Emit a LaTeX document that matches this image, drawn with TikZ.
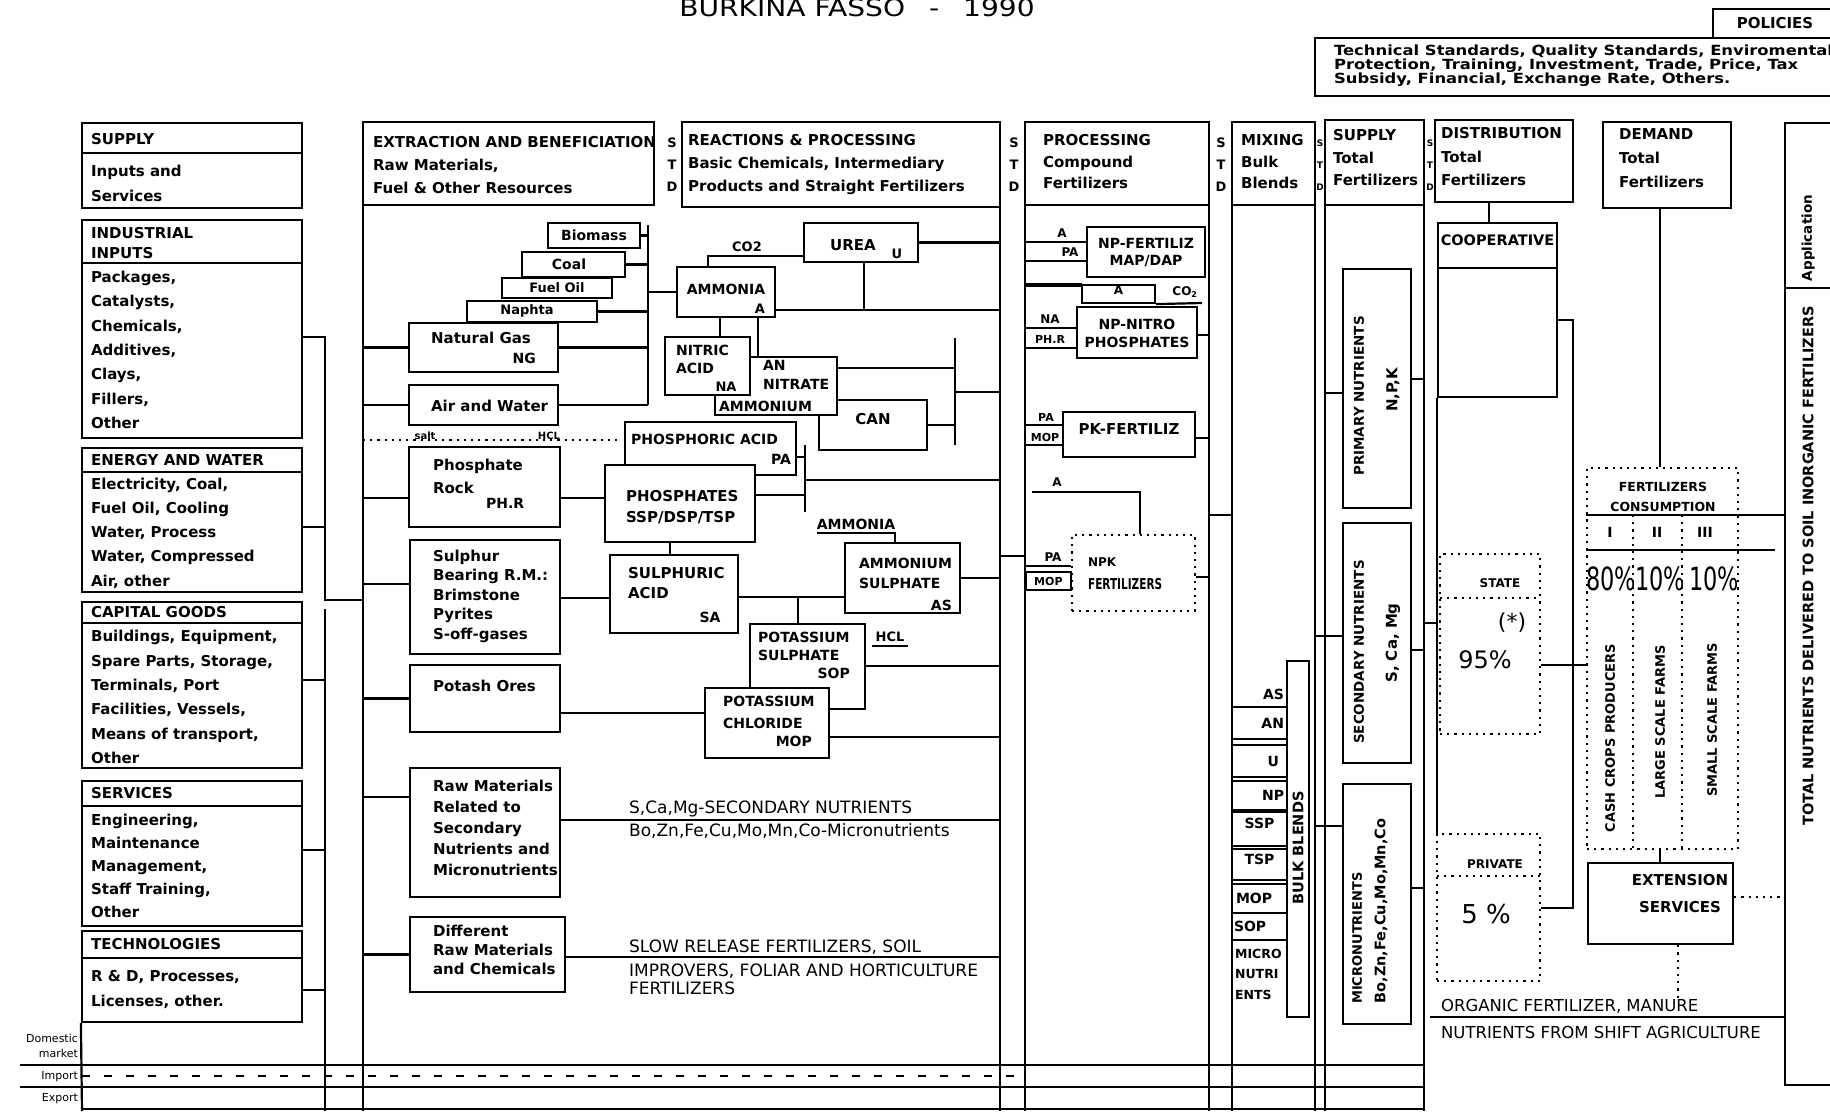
\documentclass[tikz,border=0pt]{standalone}
\usepackage{fontspec}
\setmainfont{DejaVu Sans}
\newfontfamily\widefont{DejaVu Sans}[FakeStretch=1.17]
\newfontfamily\narrowfont{DejaVu Sans}[FakeStretch=0.7]
\usetikzlibrary{fit}

\begin{document}
\begin{tikzpicture}[
    x=1pt, y=-1pt, line width=2.2pt,
    box/.style={draw, fill=white, inner sep=0pt,
                font=\fontsize{14}{18}\selectfont\bfseries},
    dotbox/.style={draw, dash pattern=on 2.2pt off 5pt, inner sep=0pt},
    dotwire/.style={dash pattern=on 2.2pt off 5pt},
    dashwire/.style={dash pattern=on 8pt off 14pt},
    lbl/.style={anchor=west, inner sep=0pt, align=left, font=\fontsize{15}{#1}\selectfont\bfseries},
    lbl/.default=23,
    tag/.style={inner sep=0pt, font=\fontsize{13}{14}\selectfont\bfseries},
    thin/.style={anchor=west, inner sep=0pt, align=left, font=\fontsize{17}{18}\selectfont},
    vlbl/.style={rotate=90, inner sep=0pt, font=\fontsize{#1}{#1}\selectfont\bfseries},
    vlbl/.default=14,
    stdl/.style={inner sep=0pt, align=center, font=\fontsize{13}{22}\selectfont\bfseries}
]
\useasboundingbox (0,0) rectangle (1830,1111);

% Title and policies
\node[inner sep=0pt, font=\widefont\fontsize{24}{24}\selectfont] (title) at (857,8) {BURKINA FASSO\quad-\quad 1990};
\draw (1830,9) -- (1713,9) -- (1713,38);
\node[tag, font=\fontsize{15}{15}\selectfont\bfseries] (policies) at (1775,23) {POLICIES};
\draw (1830,38) -- (1315,38) -- (1315,96) -- (1830,96);
\node[anchor=west, inner sep=0pt, align=left, font=\widefont\fontsize{14}{14}\selectfont\bfseries] (policylist) at (1333,66)
    {Technical Standards, Quality Standards, Enviromental\\Protection, Training, Investment, Trade, Price, Tax\\Subsidy, Financial, Exchange Rate, Others.};

% Supply of inputs and services
\node[box, fit={(82,123) (302,153)}] (suph) {};
\node[box, fit={(82,153) (302,208)}] (supb) {};
\node[lbl] (suplbl) at (90,139) {SUPPLY};
\node[lbl=25] (supitems) at (90,183) {Inputs and\\Services};
\node[box, fit={(82,220) (302,263)}] (indh) {};
\node[box, fit={(82,263) (302,438)}] (indb) {};
\node[lbl=20] (indlbl) at (90,243) {INDUSTRIAL\\INPUTS};
\node[lbl=24.3] (inditems) at (90,350) {Packages,\\Catalysts,\\Chemicals,\\Additives,\\Clays,\\Fillers,\\Other};
\node[box, fit={(82,448) (302,472)}] (enh) {};
\node[box, fit={(82,472) (302,592)}] (enb) {};
\node[lbl] (enlbl) at (90,460) {ENERGY AND WATER};
\node[lbl=24.3] (enitems) at (90,533) {Electricity, Coal,\\Fuel Oil, Cooling\\Water, Process\\Water, Compressed\\Air, other};
\node[box, fit={(82,602) (302,623)}] (caph) {};
\node[box, fit={(82,623) (302,768)}] (capb) {};
\node[lbl] (caplbl) at (90,612) {CAPITAL GOODS};
\node[lbl=24.4] (capitems) at (90,697) {Buildings, Equipment,\\Spare Parts, Storage,\\Terminals, Port\\Facilities, Vessels,\\Means of transport,\\Other};
\node[box, fit={(82,781) (302,806)}] (serh) {};
\node[box, fit={(82,806) (302,926)}] (serb) {};
\node[lbl] (serlbl) at (90,793) {SERVICES};
\node[lbl=23] (seritems) at (90,866) {Engineering,\\Maintenance\\Management,\\Staff Training,\\Other};
\node[box, fit={(82,931) (302,958)}] (tech) {};
\node[box, fit={(82,958) (302,1022)}] (tecb) {};
\node[lbl] (teclbl) at (90,944) {TECHNOLOGIES};
\node[lbl=25] (tecitems) at (90,989) {R \& D, Processes,\\Licenses, other.};

\coordinate (ibus) at (325,337);
\draw (indb.east |- ibus) -- (ibus) -- (325,600) -- (363,600);
\draw (enb.east |- 0,527) -- (325,527);
\draw (325,609) -- (325,1111);
\draw (capb.east |- 0,680) -- (325,680);
\draw (serb.east |- 0,850) -- (325,850);
\draw (tecb.east |- 0,990) -- (325,990);

% Market rows
\node[anchor=east, inner sep=0pt, align=right, font=\fontsize{11}{15}\selectfont] (domestic) at (79,1046) {Domestic\\market};
\node[anchor=east, inner sep=0pt, font=\fontsize{11}{11}\selectfont] (import) at (79,1077) {Import};
\node[anchor=east, inner sep=0pt, font=\fontsize{11}{11}\selectfont] (export) at (79,1099) {Export};
\draw (tecb.south west) -- (82,1111);
\draw (20,1065) -- (1424,1065);
\draw (20,1087) -- (1424,1087);
\draw (82,1109) -- (1424,1109);

% Extraction and beneficiation
\node[box, fit={(363,122) (654,205)}] (exth) {};
\node[lbl] (extlbl) at (372,165) {EXTRACTION AND BENEFICIATION\\Raw Materials,\\Fuel \& Other Resources};
\node[stdl] (std1) at (672,165) {S\\T\\D};
\coordinate (xl) at (363,205);
\draw (xl) -- (363,1111);

\node[box, fit={(548,223) (640,248)}] (bio) {};
\node[tag, font=\fontsize{14}{14}\selectfont\bfseries] (biolbl) at (bio.center) {Biomass};
\node[box, fit={(522,252) (625,277)}] (coal) {};
\node[tag, font=\fontsize{14}{14}\selectfont\bfseries] (coallbl) at (569,264) {Coal};
\node[box, fit={(502,278) (612,298)}] (oil) {};
\node[tag, font=\fontsize{13}{13}\selectfont\bfseries] (oillbl) at (557,288) {Fuel Oil};
\node[box, fit={(467,301) (597,322)}] (nap) {};
\node[tag, font=\fontsize{13}{13}\selectfont\bfseries] (naplbl) at (527,311) {Naphta};
\node[box, fit={(409,323) (558,372)}] (ng) {};
\node[lbl] (nglbl) at (430,338) {Natural Gas};
\node[tag, anchor=east, font=\fontsize{14}{14}\selectfont\bfseries] (ngtag) at (537,358) {NG};
\node[box, fit={(409,385) (558,425)}] (air) {};
\node[lbl] (airlbl) at (430,406) {Air and Water};
\coordinate (fbus) at (648,225);
\draw (fbus) -- (fbus |- air.east);
\foreach \n in {bio,coal,nap,ng,air} \draw (\n.east) -- (\n.east -| fbus);
\foreach \n in {ng,air} \draw (\n.west -| xl) -- (\n.west);

\draw[dotwire] (xl |- 0,440) -- (620,440);
\node[tag, font=\fontsize{10}{10}\selectfont\bfseries] (salt) at (425,436) {salt};
\node[tag, font=\fontsize{10}{10}\selectfont\bfseries] (hclone) at (549,436) {HCL};

\node[box, fit={(409,447) (560,527)}] (phr) {};
\node[lbl] (phrlbl) at (432,476) {Phosphate\\Rock};
\node[tag, anchor=west, font=\fontsize{14}{14}\selectfont\bfseries] (phrtag) at (485,503) {PH.R};
\draw (xl |- 0,498) -- (phr.west |- 0,498);

\node[box, fit={(410,540) (560,654)}] (sul) {};
\node[lbl=19.5] (sullbl) at (432,596) {Sulphur\\Bearing R.M.:\\Brimstone\\Pyrites\\S-off-gases};
\draw (xl |- 0,584) -- (sul.west |- 0,584);

\node[box, fit={(410,665) (560,732)}] (pot) {};
\node[lbl] (potlbl) at (432,686) {Potash Ores};
\draw (xl |- pot.west) -- (pot.west);

\node[box, fit={(410,768) (560,897)}] (raw) {};
\node[lbl=21] (rawlbl) at (432,828) {Raw Materials\\Related to\\Secondary\\Nutrients and\\Micronutrients};
\draw (xl |- 0,797) -- (raw.west |- 0,797);

\node[box, fit={(410,917) (565,992)}] (dif) {};
\node[lbl=19] (diflbl) at (432,950) {Different\\Raw Materials\\and Chemicals};
\draw (xl |- dif.west) -- (dif.west);

% Reactions and processing
\node[box, fit={(682,122) (1000,207)}] (reah) {};
\node[lbl] (realbl) at (687,165) {REACTIONS \& PROCESSING\\Basic Chemicals, Intermediary\\Products and Straight Fertilizers};
\node[stdl] (std2) at (1014,165) {S\\T\\D};
\coordinate (xr) at (1000,207);
\draw (xr) -- (1000,1111);

\node[box, fit={(804,223) (918,262)}] (urea) {};
\node[tag, font=\fontsize{15}{15}\selectfont\bfseries] (urealbl) at (853,245) {UREA};
\node[tag] (ureatag) at (897,254) {U};
\node[box, fit={(677,267) (775,317)}] (amm) {};
\node[tag, font=\fontsize{14}{14}\selectfont\bfseries] (ammlbl) at (726,289) {AMMONIA};
\node[tag] (ammtag) at (760,309) {A};
\draw (amm.north -| 708,0) -- (708,256) -- (urea.west |- 0,256);
\node[tag] (coone) at (747,247) {CO2};
\draw (fbus |- amm.west) -- (amm.west);
\draw (urea.east) -- (urea.east -| xr);
\draw (urea.south -| 864,0) -- (864,310);
\draw (amm.east |- 0,310) -- (xr |- 0,310);

\node[box, fit={(819,400) (927,450)}, font=\fontsize{15}{15}\selectfont\bfseries] (can) {CAN};
\node[box, fit={(715,357) (837,415)}] (an) {};
\node[box, fit={(665,337) (750,395)}] (nit) {};
\node[lbl=18, font=\fontsize{14}{18}\selectfont\bfseries] (nitlbl) at (675,359) {NITRIC\\ACID};
\node[tag] (nittag) at (726,387) {NA};
\node[lbl=19, font=\fontsize{14}{19}\selectfont\bfseries] (anlbl) at (762,375) {AN\\NITRATE};
\node[lbl, font=\fontsize{14}{14}\selectfont\bfseries] (anmlbl) at (718,406) {AMMONIUM};
\draw (amm.south -| 720,0) -- (nit.north -| 720,0);
\draw (amm.south -| 758,0) -- (an.north -| 758,0);
\draw (an.east |- 0,368) -- (955,368);
\draw (955,338) -- (955,445);
\draw (can.east) -- (can.east -| 955,0);
\draw (955,392) -- (xr |- 0,392);

\node[box, fit={(625,422) (796,475)}] (pa) {};
\node[lbl, font=\fontsize{14}{14}\selectfont\bfseries] (palbl) at (630,439) {PHOSPHORIC ACID};
\node[tag, anchor=east, font=\fontsize{14}{14}\selectfont\bfseries] (patag) at (792,459) {PA};
\node[box, fit={(605,465) (755,542)}] (phs) {};
\node[lbl=21] (phslbl) at (625,507) {PHOSPHATES\\SSP/DSP/TSP};
\draw (phr.east |- 0,498) -- (phs.west |- 0,498);
\draw (pa.east |- 0,457) -- (805,457);
\draw (805,445) -- (805,512);
\draw (phs.east |- 0,495) -- (805,495);
\draw (805,480) -- (xr |- 0,480);

\node[box, fit={(610,555) (738,633)}] (sa) {};
\node[lbl=20] (salbl) at (627,583) {SULPHURIC\\ACID};
\node[tag, font=\fontsize{14}{14}\selectfont\bfseries] (satag) at (710,617) {SA};
\draw (phs.south -| 670,0) -- (sa.north -| 670,0);
\draw (sul.east |- 0,598) -- (sa.west |- 0,598);

\node[box, fit={(845,543) (960,613)}] (as) {};
\node[lbl=20, font=\fontsize{14}{20}\selectfont\bfseries] (aslbl) at (858,573) {AMMONIUM\\SULPHATE};
\node[tag, anchor=east, font=\fontsize{14}{14}\selectfont\bfseries] (astag) at (953,605) {AS};
\node[tag, font=\fontsize{14}{14}\selectfont\bfseries] (ammtwo) at (856,524) {AMMONIA};
\draw (817,533) -- (895,533) -- (as.north -| 895,0);
\draw (sa.east |- 0,597) -- (as.west |- 0,597);
\draw (as.east |- 0,578) -- (xr |- 0,578);

\node[box, fit={(750,624) (865,709)}] (sop) {};
\node[lbl=18, font=\fontsize{14}{18}\selectfont\bfseries] (soplbl) at (757,646) {POTASSIUM\\SULPHATE};
\node[tag, anchor=east, font=\fontsize{14}{14}\selectfont\bfseries] (soptag) at (851,673) {SOP};
\draw (798,597) -- (sop.north -| 798,0);
\node[tag] (hcltwo) at (890,637) {HCL};
\draw (872,646) -- (908,646);
\draw (sop.east |- 0,666) -- (xr |- 0,666);

\node[box, fit={(705,688) (829,758)}] (mop) {};
\node[lbl=22, font=\fontsize{14}{22}\selectfont\bfseries] (moplbl) at (722,712) {POTASSIUM\\CHLORIDE};
\node[tag, anchor=east, font=\fontsize{14}{14}\selectfont\bfseries] (moptag) at (813,741) {MOP};
\draw (pot.east |- 0,713) -- (mop.west |- 0,713);
\draw (mop.east |- 0,737) -- (xr |- 0,737);

\draw (raw.east |- 0,820) -- (xr |- 0,820);
\node[thin] (secnut) at (628,809) {S,Ca,Mg-SECONDARY NUTRIENTS};
\node[thin] (micnut) at (628,831) {Bo,Zn,Fe,Cu,Mo,Mn,Co-Micronutrients};
\draw (dif.east |- 0,957) -- (xr |- 0,957);
\node[thin] (slow) at (628,947) {SLOW RELEASE FERTILIZERS, SOIL};
\node[thin] (improv) at (628,979) {IMPROVERS, FOLIAR AND HORTICULTURE\\FERTILIZERS};

% Processing compound fertilizers
\node[box, fit={(1025,122) (1209,205)}] (proh) {};
\node[lbl=21.5] (prolbl) at (1042,162) {PROCESSING\\Compound\\Fertilizers};
\node[stdl] (std3) at (1221,165) {S\\T\\D};
\draw (1025,205) -- (1025,1111);
\draw (1209,205) -- (1209,1111);
\draw (xr |- 0,556) -- (1025,556);

\node[box, fit={(1087,227) (1205,277)}] (npf) {};
\node[inner sep=0pt, align=center, font=\fontsize{14}{17}\selectfont\bfseries] (npflbl) at (1146,253) {NP-FERTILIZ\\MAP/DAP};
\draw (1025,242) -- (npf.west |- 0,242);
\node[tag, font=\fontsize{12}{12}\selectfont\bfseries] (npfa) at (1062,233) {A};
\draw (1025,261) -- (npf.west |- 0,261);
\node[tag, font=\fontsize{12}{12}\selectfont\bfseries] (npfpa) at (1070,252) {PA};

\draw[line width=3.2pt] (1025,285) -- (1082,285);
\node[box, fit={(1082,285) (1155,303)}, font=\fontsize{12}{12}\selectfont\bfseries] (abox) {A};
\draw (abox.south east) -- (1202,303);
\node[tag, font=\fontsize{12}{12}\selectfont\bfseries] (cotwo) at (1185,292) {CO\textsubscript{2}};
\node[box, fit={(1077,307) (1197,358)}] (npn) {};
\node[inner sep=0pt, align=center, font=\fontsize{14}{18}\selectfont\bfseries] (npnlbl) at (1137,333) {NP-NITRO\\PHOSPHATES};
\draw (1025,328) -- (npn.west |- 0,328);
\node[tag, font=\fontsize{12}{12}\selectfont\bfseries] (npnna) at (1050,319) {NA};
\draw (1025,348) -- (npn.west |- 0,348);
\node[tag, font=\fontsize{11}{11}\selectfont\bfseries] (npnphr) at (1050,339) {PH.R};
\draw (npn.east |- 0,335) -- (1209,335);

\node[box, fit={(1063,412) (1195,457)}, font=\fontsize{15}{15}\selectfont\bfseries] (pk) {PK-FERTILIZ};
\draw (1025,425) -- (pk.west |- 0,425);
\node[tag, font=\fontsize{11}{11}\selectfont\bfseries] (pkpa) at (1046,417) {PA};
\draw (1025,445) -- (pk.west |- 0,445);
\node[tag, font=\fontsize{11}{11}\selectfont\bfseries] (pkmop) at (1045,437) {MOP};
\draw (pk.east |- 0,438) -- (1209,438);

\node[dotbox, fit={(1072,535) (1195,611)}] (npk) {};
\node[lbl, font=\fontsize{12}{12}\selectfont\bfseries] (npklbl) at (1087,562) {NPK};
\node[lbl, font=\narrowfont\fontsize{15}{15}\selectfont\bfseries] (npkfert) at (1087,584) {FERTILIZERS};
\draw (1032,492) -- (1140,492) -- (npk.north -| 1140,0);
\node[tag, font=\fontsize{12}{12}\selectfont\bfseries] (npka) at (1057,482) {A};
\draw (1025,566) -- (npk.west |- 0,566);
\node[tag, font=\fontsize{12}{12}\selectfont\bfseries] (npkpa) at (1053,557) {PA};
\node[box, anchor=east, minimum width=45pt, minimum height=18pt, font=\fontsize{11}{11}\selectfont\bfseries] (moplab) at (1072,581) {MOP};
\draw (npk.east |- 0,577) -- (1209,577);
\draw[dotwire] (moplab.south west) -- (moplab.south west |- 0,1076);
\draw[dashwire] (82,1076) -- (moplab.south west |- 0,1076);

% Mixing bulk blends
\node[box, fit={(1232,122) (1315,205)}] (mixh) {};
\node[lbl=21.5] (mixlbl) at (1240,162) {MIXING\\Bulk\\Blends};
\draw (1232,205) -- (1232,1111);
\draw (1315,205) -- (1315,1111);
\draw (1209,515) -- (1232,515);
\node[box, fit={(1287,661) (1309,1017)}] (bulk) {};
\node[vlbl=14.5] (bulklbl) at (1298,848) {BULK BLENDS};
\node[tag, anchor=east, font=\fontsize{14}{14}\selectfont\bfseries] (asrow) at (1285,694) {AS};
\draw (1232,707) -- (bulk.west |- 0,707);
\node[box, fit={(1232,707) (1287,739)}] (anrow) {};
\node[tag, anchor=east, font=\fontsize{14}{14}\selectfont\bfseries] (anrowlbl) at ([xshift=-3pt]anrow.east) {AN};
\node[box, fit={(1232,745) (1287,777)}] (urow) {};
\node[tag, anchor=east, font=\fontsize{14}{14}\selectfont\bfseries] (urowlbl) at ([xshift=-8pt]urow.east) {U};
\node[box, fit={(1232,781) (1287,810)}] (nprow) {};
\node[tag, anchor=east, font=\fontsize{14}{14}\selectfont\bfseries] (nprowlbl) at ([xshift=-3pt]nprow.east) {NP};
\node[box, fit={(1232,812) (1287,846)}] (ssprow) {SSP};
\node[box, fit={(1232,849) (1287,880)}] (tsprow) {TSP};
\node[box, fit={(1232,884) (1287,913)}] (moprow) {};
\node[tag, anchor=west, font=\fontsize{14}{14}\selectfont\bfseries] (moprowlbl) at ([xshift=4pt]moprow.west) {MOP};
\node[box, fit={(1232,913) (1287,940)}] (soprow) {};
\node[tag, anchor=west, font=\fontsize{14}{14}\selectfont\bfseries] (soprowlbl) at ([xshift=2pt]soprow.west) {SOP};
\node[lbl=20.5, font=\fontsize{12.5}{20.5}\selectfont\bfseries] (microw) at (1234,974) {MICRO\\NUTRI\\ENTS};

% Supply of fertilizers
\node[box, fit={(1325,120) (1424,205)}] (fsuph) {};
\node[lbl=22.5] (fsuplbl) at (1332,158) {SUPPLY\\Total\\Fertilizers};
\node[stdl, font=\fontsize{9}{22}\selectfont\bfseries] (std4) at (1320,165) {S\\T\\D};
\node[stdl, font=\fontsize{9}{22}\selectfont\bfseries] (std5) at (1430,165) {S\\T\\D};
\draw (1325,205) -- (1325,1111);
\draw (1424,205) -- (1424,1111);

\node[box, fit={(1343,269) (1411,508)}] (prim) {};
\node[vlbl=13.5] (primlbl) at (1359,396) {PRIMARY NUTRIENTS};
\node[vlbl=15] (npk2) at (1393,390) {N,P,K};
\draw (1325,393) -- (prim.west |- 0,393);
\draw (prim.east |- 0,379) -- (1424,379);

\node[box, fit={(1343,523) (1411,763)}] (sec) {};
\node[vlbl=13.5] (seclbl) at (1359,652) {SECONDARY NUTRIENTS};
\node[vlbl=15] (secel) at (1393,643) {S, Ca, Mg};
\draw (1315,636) -- (sec.west |- 0,636);
\draw (sec.east |- 0,650) -- (1424,650);

\node[box, fit={(1343,784) (1411,1024)}] (mic) {};
\node[vlbl=13] (miclbl) at (1357,938) {MICRONUTRIENTS};
\node[vlbl=14.5] (micel) at (1381,911) {Bo,Zn,Fe,Cu,Mo,Mn,Co};
\draw (1315,826) -- (mic.west |- 0,826);
\draw (mic.east |- 0,888) -- (1424,888);

% Distribution
\node[box, fit={(1435,120) (1573,202)}] (disth) {};
\node[lbl=23.5] (distlbl) at (1440,157) {DISTRIBUTION\\Total\\Fertilizers};
\node[box, fit={(1438,223) (1557,268)}, font=\fontsize{14.5}{14.5}\selectfont\bfseries] (cooph) {COOPERATIVE};
\node[box, fit={(1438,268) (1557,397)}] (coopb) {};
\draw (disth.south -| 1489,0) -- (cooph.north -| 1489,0);
\draw (1424,623) -- (1438,623);

\node[dotbox, fit={(1440,554) (1540,734)}] (state) {};
\draw[dotwire] (1440,598) -- (1540,598);
\node[tag, font=\fontsize{12}{12}\selectfont\bfseries] (statelbl) at (1500,583) {STATE};
\node[inner sep=0pt, font=\fontsize{22}{22}\selectfont] (star) at (1512,623) {(*)};
\node[inner sep=0pt, font=\fontsize{24}{24}\selectfont] (pstate) at (1485,660) {95\%};

\node[dotbox, fit={(1437,834) (1540,981)}] (priv) {};
\draw[dotwire] (1437,876) -- (1540,876);
\node[tag, font=\fontsize{12}{12}\selectfont\bfseries] (privlbl) at (1495,864) {PRIVATE};
\node[inner sep=0pt, font=\fontsize{26}{26}\selectfont] (ppriv) at (1486,914) {5 \%};

\draw (coopb.south west) -- (coopb.south west |- priv.north);
\draw (coopb.east |- 0,320) -- (1573,320) -- (1573,908) -- (priv.east |- 0,908);
\draw (state.east |- 0,665) -- (1587,665);

% Demand
\node[box, fit={(1603,122) (1731,208)}] (demh) {};
\node[lbl=24] (demlbl) at (1618,158) {DEMAND\\Total\\Fertilizers};
\node[dotbox, fit={(1587,468) (1738,849)}] (cons) {};
\draw (demh.south -| 1660,0) -- (cons.north -| 1660,0);
\node[inner sep=0pt, align=center, font=\fontsize{12.5}{20}\selectfont\bfseries] (conslbl) at (1663,497) {FERTILIZERS\\CONSUMPTION};
\draw (cons.west |- 0,515) -- (1785,515);
\draw (cons.west |- 0,550) -- (1775,550);
\draw[dotwire] (1633,515) -- (1633,849);
\draw[dotwire] (1682,515) -- (1682,849);
\node[tag, font=\fontsize{14}{14}\selectfont\bfseries] (ci) at (1610,532) {I};
\node[tag, font=\fontsize{14}{14}\selectfont\bfseries] (cii) at (1657,532) {II};
\node[tag, font=\fontsize{14}{14}\selectfont\bfseries] (ciii) at (1705,532) {III};
\node[inner sep=0pt, font=\narrowfont\fontsize{32}{32}\selectfont] (pone) at (1611,579) {80\%};
\node[inner sep=0pt, font=\narrowfont\fontsize{32}{32}\selectfont] (ptwo) at (1660,579) {10\%};
\node[inner sep=0pt, font=\narrowfont\fontsize{32}{32}\selectfont] (pthree) at (1714,579) {10\%};
\node[vlbl=13] (cash) at (1610,738) {CASH CROPS PRODUCERS};
\node[vlbl=13] (large) at (1660,722) {LARGE SCALE FARMS};
\node[vlbl=13] (small) at (1712,720) {SMALL SCALE FARMS};

\node[box, fit={(1588,863) (1733,944)}] (ext) {};
\node[inner sep=0pt, align=center, font=\fontsize{15}{27}\selectfont\bfseries] (extlbl2) at (1680,894) {EXTENSION\\SERVICES};
\draw (cons.south -| 1660,0) -- (ext.north -| 1660,0);
\draw[dotwire] (ext.east |- 0,897) -- (1785,897);
\draw[dotwire] (ext.south -| 1678,0) -- (1678,1000);

\draw (1430,1017) -- (1785,1017);
\node[thin, font=\fontsize{16.5}{16.5}\selectfont] (organic) at (1440,1006) {ORGANIC FERTILIZER, MANURE};
\node[thin, font=\fontsize{16.5}{16.5}\selectfont] (shift) at (1440,1032) {NUTRIENTS FROM SHIFT AGRICULTURE};

% Total nutrients delivered
\draw (1830,123) -- (1785,123) -- (1785,1085) -- (1830,1085);
\draw (1785,288) -- (1830,288);
\node[vlbl=13.5] (applic) at (1808,238) {Application};
\node[vlbl=14.5] (total) at (1808,566) {TOTAL NUTRIENTS DELIVERED TO SOIL INORGANIC FERTILIZERS};

\end{tikzpicture}
\end{document}
